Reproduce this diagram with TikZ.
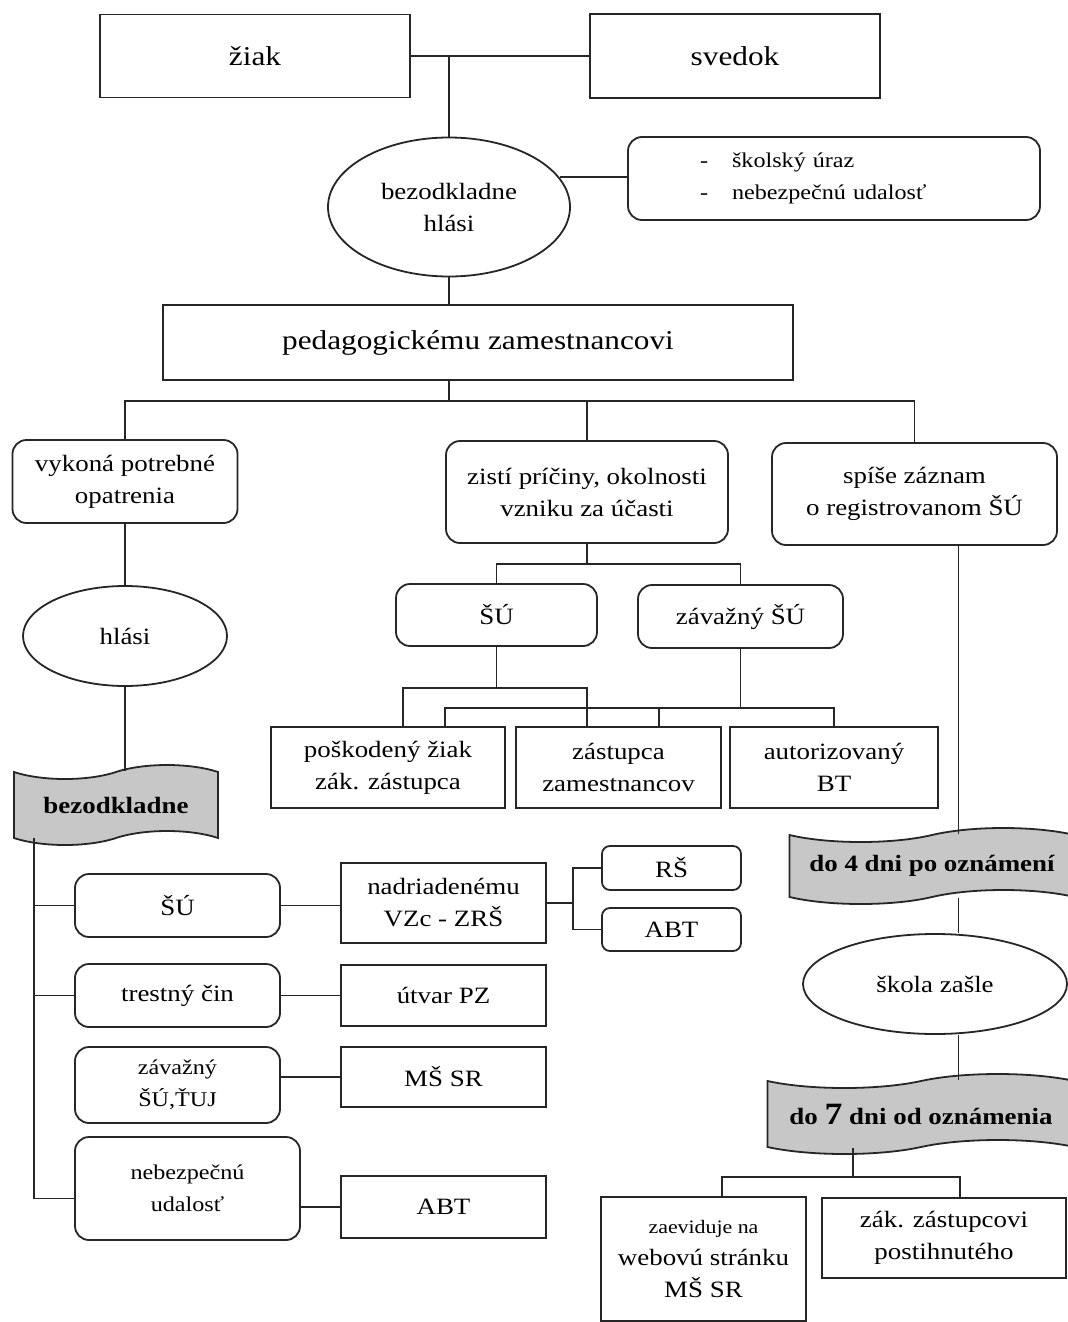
\documentclass[tikz,border=0pt]{standalone}
\usepackage{fontspec}
\setmainfont{Liberation Serif}[FakeStretch=1.15]
\usetikzlibrary{shapes.geometric,shapes.symbols}
\newcommand\fbig{\fontsize{13.6}{16}\selectfont}
\newcommand\fnorm{\fontsize{11.7}{16}\selectfont}
\newcommand\fsmall{\fontsize{10.5}{16}\selectfont}
\newcommand\ftiny{\fontsize{9.5}{16}\selectfont}

\begin{document}
\begin{tikzpicture}[x=0.5pt,y=-0.5pt,line width=0.9pt,draw=black!85,
  box/.style={draw,rectangle,inner sep=0pt,align=center,font=\fnorm},
  rbox/.style={box,rounded corners=7pt},
  oval/.style={draw,ellipse,inner sep=0pt,align=center,font=\fnorm},
  flag/.style={draw,tape,fill=black!22,inner sep=0pt,tape bend height=7pt,align=center,font=\fnorm\bfseries}]
  \useasboundingbox (0,0) rectangle (1067,1322);
  \node[box,font=\fbig,minimum width=155pt,minimum height=41.5pt] (ziak) at (255,56) {žiak};
  \node[box,font=\fbig,minimum width=145pt,minimum height=42pt] (svedok) at (735,56) {svedok};
  \node[oval,minimum width=121pt,minimum height=69.5pt] (hlasi_0) at (449,207) {bezodkladne\\hlási};
  \node[rbox,minimum width=206pt,minimum height=41.5pt,align=left,text width=134pt,font=\fsmall] (druhy) at (834,178.5)
    {-\hspace{12pt}školský úraz\\-\hspace{12pt}nebezpečnú udalosť};
  \node[box,font=\fbig,minimum width=315pt,minimum height=37.5pt] (pedag) at (478,342.5) {pedagogickému zamestnancovi};
  \node[rbox,minimum width=112.5pt,minimum height=41.5pt] (vykona) at (125,481.5) {vykoná potrebné\\opatrenia};
  \node[rbox,minimum width=141pt,minimum height=51pt] (zisti) at (587,492) {zistí príčiny, okolnosti\\vzniku za účasti};
  \node[rbox,minimum width=142.5pt,minimum height=51pt] (spise) at (914.5,494) {spíše záznam\\o registrovanom ŠÚ};
  \node[rbox,minimum width=100.5pt,minimum height=31pt] (su_1) at (496.5,615) {ŠÚ};
  \node[rbox,minimum width=102.5pt,minimum height=31.5pt] (zav_1) at (740.5,616.5) {závažný ŠÚ};
  \node[box,minimum width=117pt,minimum height=40.5pt] (posk) at (388,767.5) {poškodený žiak\\zák. zástupca};
  \node[box,minimum width=102.5pt,minimum height=40.5pt] (zast) at (618.5,767.5) {zástupca\\zamestnancov};
  \node[box,minimum width=104pt,minimum height=40.5pt] (autor) at (834,767.5) {autorizovaný\\BT};
  \node[oval,minimum width=102pt,minimum height=50pt] (hlasi_1) at (125,636) {hlási};
  \node[flag,minimum width=102pt,minimum height=40pt] (flag_1) at (116,805) {bezodkladne};
  \node[rbox,minimum width=102.5pt,minimum height=31.5pt] (su_2) at (177.5,905.5) {ŠÚ};
  \node[rbox,minimum width=102.5pt,minimum height=31.5pt] (trest) at (177.5,995.5) {trestný čin};
  \node[rbox,minimum width=102.5pt,minimum height=38pt,font=\fsmall] (zav_2) at (177.5,1085) {závažný\\ŠÚ,ŤUJ};
  \node[rbox,minimum width=112.5pt,minimum height=51.5pt,font=\fsmall] (udal) at (187.5,1188.5) {nebezpečnú\\udalosť};
  \node[box,minimum width=102.5pt,minimum height=40pt] (nadr) at (443.5,903) {nadriadenému\\VZc - ZRŠ};
  \node[box,minimum width=102.5pt,minimum height=30.5pt] (pz) at (443.5,995.5) {útvar PZ};
  \node[box,minimum width=102.5pt,minimum height=30pt] (ms_1) at (443.5,1077) {MŠ SR};
  \node[box,minimum width=102.5pt,minimum height=31pt] (abt_2) at (443.5,1207) {ABT};
  \node[rbox,rounded corners=4pt,minimum width=69.5pt,minimum height=22pt] (rs) at (671.5,868) {RŠ};
  \node[rbox,rounded corners=4pt,minimum width=69.5pt,minimum height=21.5pt] (abt_1) at (671.5,929.5) {ABT};
  \node[flag,minimum width=142.5pt,minimum height=38pt] (flag_2) at (932,866) {do 4 dni po oznámení};
  \node[oval,minimum width=132pt,minimum height=50pt] (skola) at (935,984) {škola zašle};
  \node[flag,minimum width=153.5pt,minimum height=40pt] (flag_3) at (921,1114) {do {\fontsize{15.5}{15.5}\selectfont 7} dni od oznámenia};
  \node[box,minimum width=102.5pt,minimum height=62pt] (web) at (703.5,1259) {\ftiny zaeviduje na\\webovú stránku\\\fnorm MŠ SR};
  \node[box,minimum width=122pt,minimum height=40pt] (zak) at (944,1238) {zák. zástupcovi\\postihnutého};
  \draw (ziak) -- (svedok);
  \draw (hlasi_0.north |- ziak.east) -- (hlasi_0.north);
  \draw (hlasi_0.15) -- (druhy.west |- hlasi_0.15);
  \draw (hlasi_0.south) -- (hlasi_0.south |- pedag.north);
  \path (hlasi_0.south |- pedag.south) ++(0,20) coordinate (b_1);
  \draw (hlasi_0.south |- pedag.south) -- (b_1);
  \draw (vykona.north) |- (b_1) -| (spise.north);
  \draw (b_1) -| (zisti.north);
  \draw (vykona) -- (hlasi_1);
  \draw (hlasi_1.south) -- (hlasi_1.south |- flag_1.north);
  \coordinate (spine) at ([xshift=10.5pt]flag_1.south west);
  \draw (spine) |- ([yshift=-5pt]udal.west);
  \draw (su_2.west) -- (su_2.west -| spine);
  \draw (trest.west) -- (trest.west -| spine);
  \draw (su_2.east) -- (su_2.east -| nadr.west);
  \draw (trest) -- (pz);
  \draw (ms_1.west) -- (ms_1.west -| zav_2.east);
  \draw (abt_2.west) -- (abt_2.west -| udal.east);
  \path (nadr.east) ++(26,0) coordinate (b_2);
  \draw (nadr.east) -- (b_2);
  \draw (rs.west) -| (b_2) |- (abt_1.west);
  \path (zisti.south) ++(0,20) coordinate (b_3);
  \draw (zisti.south) -- (b_3);
  \draw (su_1.north) |- (b_3) -| (zav_1.north);
  \path (su_1.south) ++(0,41) coordinate (b_4);
  \draw (su_1.south) -- (b_4);
  \draw ([xshift=7.5pt]posk.north) |- (b_4) -| ([xshift=-15.75pt]zast.north);
  \path (zav_1.south) ++(0,59) coordinate (b_5);
  \draw (zav_1.south) -- (b_5);
  \draw ([xshift=28.5pt]posk.north) |- (b_5) -| (autor.north);
  \draw ([xshift=20.25pt]zast.north) -- ([xshift=20.25pt]zast.north |- b_5);
  \coordinate (r_0) at ([xshift=22pt]spise.south);
  \draw (r_0) -- (r_0 |- flag_2.north);
  \draw (r_0 |- flag_2.south) -- (r_0 |- skola.north);
  \draw (r_0 |- skola.south) -- (r_0 |- flag_3.north);
  \coordinate (b_6) at (853,1177);
  \draw (b_6 |- flag_3.south) -- (b_6);
  \draw ([xshift=9.25pt]web.north) |- (b_6) -| ([xshift=8pt]zak.north);
\end{tikzpicture}
\end{document}
